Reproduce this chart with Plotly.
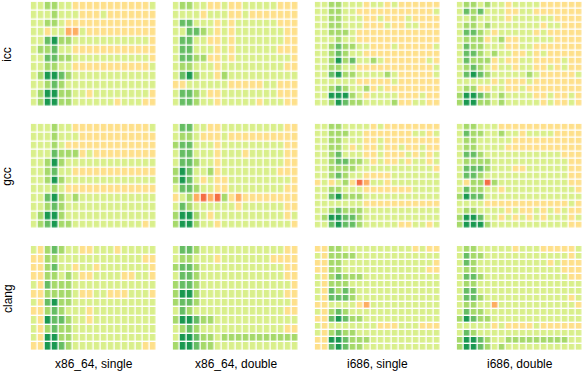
import plotly.graph_objects as go

compilers = ["icc", "gcc", "clang"]
targets = ["x86_64, single", "x86_64, double", "i686, single", "i686, double"]
# level codes: 1 dark green ... 4 pale ... 5 yellow, 6 orange, 7 red
icc_x64_s = ["443344555555555554","444344455545555555","443345555555555555","445446645555555555",
 "442133444444444445","433244555555555555","442233444444444445","443344555555555554",
 "431123444444444444","443234444444444444","431133445444444445","431133444444544455"]
icc_x64_d = ["433445545544444555","444454445545555555","422444545444444555","442234545444444455",
 "422445545444444455","422444545444444555","422335545444444445","433444544444444455",
 "421344534444444444","554444445555544555","422345544444444555","422344544444544455"]
icc_i686_s = ["443344454454555555","443344555555555554","443344455455545555","443344455545544555",
 "443334555555555555","444344555555555555","443233445554555554","443234455555555555",
 "443132443455555545","443344555555555554","442133444434555554","444444555554555555",
 "443234435455555555","441113454444555455","443123344443554455"]
icc_i686_d = ["433434454444555555","423244455445555555","443444454444445555","433434444444544555",
 "422345444445455555","433354355444445555","423344455445555555","422343445545455555",
 "423335455445555455","432345445445545455","421234444434555554","444445455545555555",
 "433554455455555555","311234344445545545","311334344444545545"]
gcc_x64_s = ["444344555555555554","444344455555555555","444345555555555555","444233354555555555",
 "443134444444444444","443244555555555555","443134444444444444","444345555555555555",
 "442134344444444444","443234444444444444","431134444444444444","432133444444444454"]
gcc_x64_d = ["422445544444444455","433455545555555555","322444544444444455","422444544454444455",
 "422344544444444455","312443544444444555","312454554444444445","422344554444444455",
 "543676735655555555","423444444544444455","311345444444444454","311344544444444445"]
gcc_i686_s = ["443344445455555555","443334455555554454","443344455455555555","443345455455455455",
 "443244455455545454","443223345455454454","443333444444444445","443234455554444444",
 "545435764454444444","443344455555554444","442133344444444444","444444455555555555",
 "443233344444444444","431122344444444444","442122344444554454"]
gcc_i686_d = ["433444555555555555","423344344544445555","433444445555555555","433444455555555555",
 "422344444444444555","433334444444444455","422234445544444455","422344444444444455",
 "453373444444444455","423344544444444445","312244444444444444","444455555555555545",
 "433444454554545455","311244545454544454","311134444444444455"]
clang_x64_s = ["453234455444544444","553344444444444455","553244544544444445","553343455444455445",
 "452333444444444444","553333455445554445","452133444444444444","553234445444444444",
 "451223445444444444","453233444444444444","451133444444444444","551123444444444455"]
clang_x64_d = ["422344444444444455","433444544444445555","322344444444444455","422344444444444455",
 "322344444444444445","311344444444444455","322344444444444445","423444444444444455",
 "311233444444444444","432344444444444455","411233433333333333","311233444444444444"]
clang_i686_s = ["553344444444445455","453333444444444444","553344444444444445","553344444444444455",
 "453233344444444444","453334444444444444","452323444444444444","452223444444444444",
 "554444564444444444","453234444444444444","552123344444444444","454444444555444555",
 "453233444444444444","551123334444444444","552123344444444444"]
clang_i686_d = ["433444445444555554","423344444444444454","423444444444454555","433444444444444555",
 "422344444444444455","433444444444444444","422444444444444444","422344444444444454",
 "433446444444444445","423344444444444444","312334444444444444","444445455554555555",
 "423444444444444444","311234433333333344","311234344444444444"]

panels = [[icc_x64_s, icc_x64_d, icc_i686_s, icc_i686_d],
          [gcc_x64_s, gcc_x64_d, gcc_i686_s, gcc_i686_d],
          [clang_x64_s, clang_x64_d, clang_i686_s, clang_i686_d]]

palette = ["#1a9850", "#66bd63", "#a6d96a", "#d9ef8b", "#fee08b", "#fdae61", "#f46d43"]
W, H = 583, 373
col_x = [(30.7, 156.3), (172.7, 298.3), (314.7, 440.3), (456.7, 582.3)]
row_y = [(1.7, 107), (123.7, 229), (246, 351)]
FONT = "Liberation Sans, Arial, sans-serif"

scale = []
for i, c in enumerate(palette):
    scale += [[i / 7, c], [(i + 1) / 7, c]]

fig = go.Figure()
layout = {}
n = 0
for r, row in enumerate(panels):
    for c, rows in enumerate(row):
        n += 1
        z = [[int(ch) for ch in line] for line in rows]
        assert all(len(v) == 18 for v in z), (r, c, [len(v) for v in z])
        fig.add_trace(go.Heatmap(z=z, zmin=0.5, zmax=7.5, colorscale=scale, showscale=False,
                                 xgap=1.4, ygap=1.4, xaxis=f"x{n}", yaxis=f"y{n}", hoverinfo="skip"))
        layout[f"xaxis{n}"] = dict(domain=[col_x[c][0] / W, col_x[c][1] / W], range=[-0.5, 17.5],
                                   visible=False, anchor=f"y{n}")
        layout[f"yaxis{n}"] = dict(domain=[1 - row_y[r][1] / H, 1 - row_y[r][0] / H],
                                   range=[len(z) - 0.5, -0.5], visible=False, anchor=f"x{n}")

ann = []
for c, label in enumerate(targets):
    ann.append(dict(text=label, x=sum(col_x[c]) / 2 / W, y=1 - 363.5 / H, xref="paper", yref="paper",
                    showarrow=False, xanchor="center", yanchor="middle",
                    font=dict(family=FONT, size=12, color="#000")))
for r, label in enumerate(compilers):
    ann.append(dict(text=label, x=7.5 / W, y=1 - sum(row_y[r]) / 2 / H, xref="paper", yref="paper",
                    showarrow=False, textangle=-90, xanchor="center", yanchor="middle",
                    font=dict(family=FONT, size=12, color="#000")))

fig.update_layout(width=W, height=H, margin=dict(l=0, r=0, t=0, b=0), paper_bgcolor="white",
                  plot_bgcolor="white", annotations=ann, showlegend=False, **layout)
fig.write_html("out.html", config={"displayModeBar": False},
               post_script="document.documentElement.style.margin='0';document.body.style.margin='0';document.body.style.overflow='hidden';")
